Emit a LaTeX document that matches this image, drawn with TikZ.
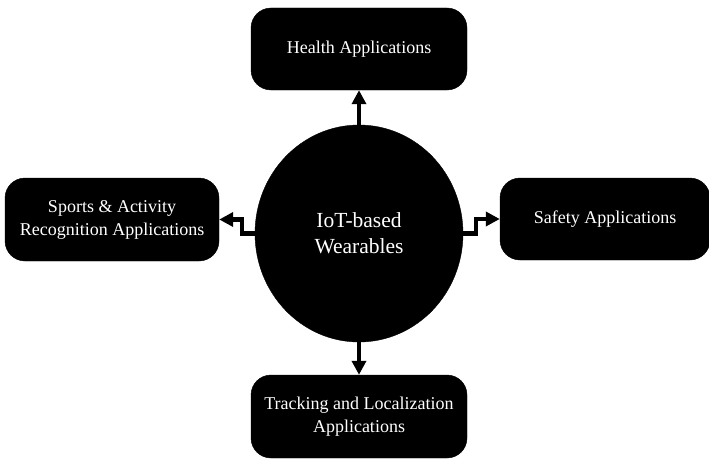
\documentclass[tikz,border=0pt]{standalone}
\usepackage{fontspec}
\setmainfont{Liberation Serif}
\usetikzlibrary{arrows.meta,shapes.geometric}
\begin{document}
\begin{tikzpicture}[x=1pt,y=-1pt,
  appbox/.style={draw=black,fill=black,rounded corners=20pt,text=white,align=center,
    inner sep=0pt,font=\fontsize{18}{23}\selectfont},
  hub/.style={ellipse,draw=black,fill=black,text=white,align=center,inner sep=0pt,
    minimum width=208pt,minimum height=217pt,font=\fontsize{21.5}{26}\selectfont},
  link/.style={line width=4.5pt,-{Triangle[width=14pt,length=14pt]}}]
\useasboundingbox (0,0) rectangle (709,460);
\node[hub] (c) at (359,233.5) {IoT-based\\Wearables};
\node[appbox,minimum width=216pt,minimum height=82pt] (health) at (359,49) {Health Applications};
\node[appbox,minimum width=214pt,minimum height=83pt] (sports) at (112,219.5) {Sports \& Activity\\Recognition Applications};
\node[appbox,minimum width=210pt,minimum height=82pt] (safety) at (605,219) {Safety Applications};
\node[appbox,minimum width=216pt,minimum height=83pt] (track) at (359,416.5) {Tracking and Localization\\Applications};
\draw[link] (c.north) -- (health.south);
\draw[link] (c.south) -- (track.north);
\draw[link] (c.west) -- ++(-13,0) |- (sports.east);
\draw[link] (c.east) -- ++(13,0) |- (safety.west);
\end{tikzpicture}
\end{document}
